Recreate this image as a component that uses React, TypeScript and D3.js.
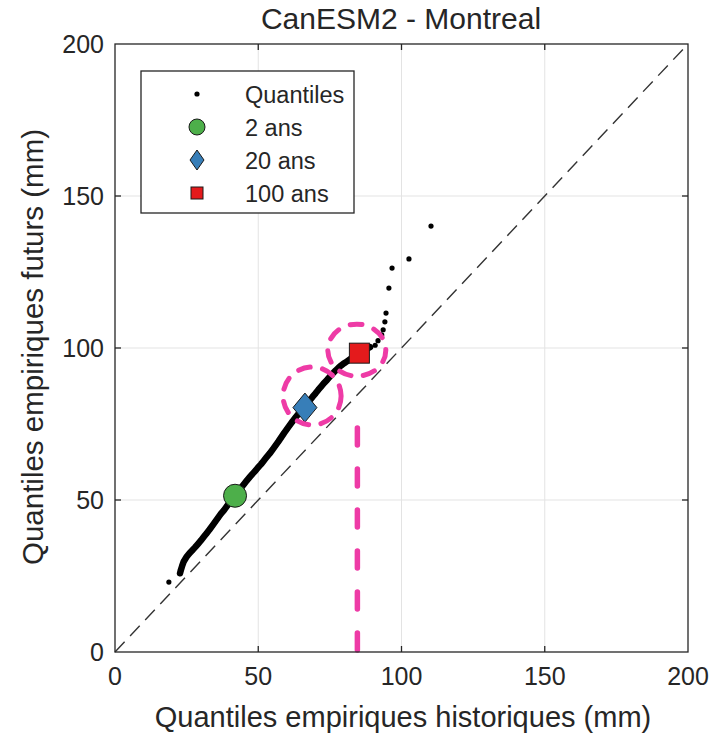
import React, { useEffect, useRef } from "react";
import * as d3 from "d3";

// quantiles historiques vs futurs (mm)
const histQ = [
  18.8, 22.7, 23.0, 23.5, 24.0, 25.0, 26.0, 27.0, 28.0, 29.0, 30.0, 31.0, 32.0, 33.0, 34.0,
  35.0, 36.0, 37.0, 38.0, 39.0, 40.0, 41.0, 42.0, 43.0, 44.0, 45.0, 46.0, 47.0, 48.0, 49.0,
  50.0, 51.0, 52.0, 53.0, 54.0, 55.0, 56.0, 57.0, 58.0, 59.0, 60.0, 61.0, 62.0, 63.0, 64.0,
  65.0, 66.0, 67.0, 68.0, 69.0, 70.0, 71.0, 72.0, 73.0, 74.0, 75.0, 76.0, 77.0, 78.0, 79.0,
  80.0, 81.0, 82.0, 83.0, 84.0, 85.0, 86.0, 87.0, 88.0, 89.0,
  90.8, 91.8, 93.1, 93.6, 94.2, 94.6, 95.6, 96.7, 102.6, 110.3,
];
const futQ = [
  23.0, 25.9, 27.0, 28.5, 29.8, 31.3, 32.5, 33.5, 34.5, 35.6, 36.7, 37.9, 39.1, 40.3, 41.6,
  42.9, 44.2, 45.5, 46.6, 47.9, 49.2, 50.5, 51.6, 52.9, 54.0, 55.2, 56.4, 57.5, 58.6, 59.6,
  60.8, 61.8, 63.0, 64.2, 65.3, 66.6, 67.9, 69.2, 70.6, 72.0, 73.3, 74.6, 75.9, 77.1, 78.3,
  79.4, 80.3, 81.6, 82.8, 84.0, 85.1, 86.3, 87.4, 88.5, 89.5, 90.6, 91.6, 92.6, 93.5, 94.3,
  95.0, 95.6, 96.3, 97.0, 97.6, 98.2, 98.8, 99.3, 99.8, 100.3,
  100.9, 102.4, 104.3, 106.0, 108.6, 111.5, 119.7, 126.3, 129.3, 140.1,
];

// periodes de retour
const periodLabels = ["2 ans", "20 ans", "100 ans"];
const periodHist = [41.9, 66.3, 85.3];
const periodFut = [51.4, 80.4, 98.3];

const ticks = [0, 50, 100, 150, 200];

// annotations (hand-drawn circles + vertical guide)
const circleHist = [68.8, 84.4];
const circleFut = [84.2, 99.3];
const guideHist = 84.6;

const FONT = "Arial, 'Liberation Sans', Helvetica, sans-serif";
const TXT = "#262626";
const PINK = "#ee3ba6";

export default function App() {
  const ref = useRef<SVGSVGElement>(null);

  useEffect(() => {
    const svg = d3.select(ref.current);
    svg.selectAll("*").remove();

    const x = d3.scaleLinear().domain([0, 200]).range([115, 688]);
    const y = d3.scaleLinear().domain([0, 200]).range([652, 44]);
    const colors = d3.schemeSet1;
    const fills = [colors[2], colors[1], colors[0]];

    const g = svg.append("g");

    // background
    g.append("rect").attr("x", x(0)).attr("y", y(200))
      .attr("width", x(200) - x(0)).attr("height", y(0) - y(200)).attr("fill", "#fff");

    // grid
    const grid = g.append("g").attr("stroke", "#e3e3e3").attr("stroke-width", 1);
    ticks.slice(1, -1).forEach(t => {
      grid.append("line").attr("x1", x(t)).attr("x2", x(t)).attr("y1", y(0)).attr("y2", y(200));
      grid.append("line").attr("x1", x(0)).attr("x2", x(200)).attr("y1", y(t)).attr("y2", y(t));
    });

    // 1:1 line
    g.append("line")
      .attr("x1", x(0)).attr("y1", y(0)).attr("x2", x(200)).attr("y2", y(200))
      .attr("stroke", "#333").attr("stroke-width", 1.4).attr("stroke-dasharray", "14 8");

    // quantile dots
    g.append("g").selectAll("circle")
      .data(histQ.map((h, i) => [h, futQ[i]]))
      .join("circle")
      .attr("cx", d => x(d[0])).attr("cy", d => y(d[1])).attr("r", 2.6)
      .attr("fill", "#000");

    // thick curve look for the dense part
    const dense = histQ.map((h, i) => [h, futQ[i]]).slice(1, 70);
    g.append("path")
      .attr("d", d3.line().x(d => x(d[0])).y(d => y(d[1]))(dense as [number, number][]))
      .attr("fill", "none").attr("stroke", "#000").attr("stroke-width", 6.5)
      .attr("stroke-linecap", "round").attr("stroke-linejoin", "round");

    // return period markers
    const mk = g.append("g").attr("stroke", "#1a1a1a").attr("stroke-width", 1);
    mk.append("circle").attr("cx", x(periodHist[0])).attr("cy", y(periodFut[0])).attr("r", 11.5)
      .attr("fill", fills[0]);
    const dx = x(periodHist[1]), dy = y(periodFut[1]);
    mk.append("path")
      .attr("d", `M${dx},${dy - 14.5}L${dx + 12},${dy}L${dx},${dy + 14.5}L${dx - 12},${dy}Z`)
      .attr("fill", fills[1]);
    mk.append("rect").attr("x", x(periodHist[2]) - 10).attr("y", y(periodFut[2]) - 10)
      .attr("width", 20).attr("height", 20).attr("fill", fills[2]);

    // annotations
    const ann = g.append("g").attr("fill", "none").attr("stroke", PINK)
      .attr("stroke-width", 5).attr("stroke-linecap", "round");
    ann.append("ellipse").attr("cx", x(circleHist[0])).attr("cy", y(circleFut[0]))
      .attr("rx", 29).attr("ry", 29).attr("stroke-dasharray", "12 12.5");
    ann.append("ellipse").attr("cx", x(circleHist[1])).attr("cy", y(circleFut[1]))
      .attr("rx", 29).attr("ry", 26).attr("stroke-dasharray", "12 12.5");
    ann.append("line").attr("x1", x(guideHist)).attr("x2", x(guideHist))
      .attr("y1", y(0) - 2).attr("y2", 404).attr("stroke-width", 5.5)
      .attr("stroke-dasharray", "17 24");

    // axes box + ticks
    const ax = g.append("g").attr("stroke", TXT).attr("stroke-width", 1.3).attr("fill", "none");
    ax.append("rect").attr("x", x(0)).attr("y", y(200))
      .attr("width", x(200) - x(0)).attr("height", y(0) - y(200));
    ticks.slice(1, -1).forEach(t => {
      ax.append("line").attr("x1", x(t)).attr("x2", x(t)).attr("y1", y(0)).attr("y2", y(0) - 6);
      ax.append("line").attr("x1", x(t)).attr("x2", x(t)).attr("y1", y(200)).attr("y2", y(200) + 6);
      ax.append("line").attr("x1", x(0)).attr("x2", x(0) + 6).attr("y1", y(t)).attr("y2", y(t));
      ax.append("line").attr("x1", x(200)).attr("x2", x(200) - 6).attr("y1", y(t)).attr("y2", y(t));
    });

    const txt = g.append("g").attr("font-family", FONT).attr("fill", TXT);
    ticks.forEach(t => {
      txt.append("text").attr("x", x(t)).attr("y", y(0) + 33).attr("text-anchor", "middle")
        .attr("font-size", 25).text(t);
      txt.append("text").attr("x", x(0) - 11).attr("y", y(t) + 9).attr("text-anchor", "end")
        .attr("font-size", 25).text(t);
    });
    txt.append("text").attr("x", 401).attr("y", 29).attr("text-anchor", "middle")
      .attr("font-size", 30).text("CanESM2 - Montreal");
    txt.append("text").attr("x", 403).attr("y", 727).attr("text-anchor", "middle")
      .attr("font-size", 29).text("Quantiles empiriques historiques (mm)");
    txt.append("text").attr("transform", "translate(43,347) rotate(-90)")
      .attr("text-anchor", "middle").attr("font-size", 29.5)
      .text("Quantiles empiriques futurs (mm)");

    // legend
    const lg = g.append("g");
    lg.append("rect").attr("x", 141).attr("y", 71).attr("width", 213).attr("height", 142)
      .attr("fill", "#fff").attr("stroke", TXT).attr("stroke-width", 1.3);
    const rows = ["Quantiles", ...periodLabels];
    const ry = [94, 127, 160, 193];
    const sx = 197;
    rows.forEach((r, i) => {
      lg.append("text").attr("x", 245).attr("y", ry[i] + 8.5).attr("font-family", FONT)
        .attr("font-size", 23.5).attr("fill", TXT).text(r);
    });
    lg.append("circle").attr("cx", sx).attr("cy", ry[0]).attr("r", 2.6).attr("fill", "#000");
    lg.append("circle").attr("cx", sx).attr("cy", ry[1]).attr("r", 8)
      .attr("fill", fills[0]).attr("stroke", "#1a1a1a");
    lg.append("path")
      .attr("d", `M${sx},${ry[2] - 10}L${sx + 7},${ry[2]}L${sx},${ry[2] + 10}L${sx - 7},${ry[2]}Z`)
      .attr("fill", fills[1]).attr("stroke", "#1a1a1a");
    lg.append("rect").attr("x", sx - 6).attr("y", ry[3] - 6).attr("width", 12).attr("height", 12)
      .attr("fill", fills[2]).attr("stroke", "#1a1a1a");
  }, []);

  return (
    <svg ref={ref} width={727} height={739}
      style={{ position: "absolute", left: 0, top: 0, background: "#fff" }} />
  );
}
